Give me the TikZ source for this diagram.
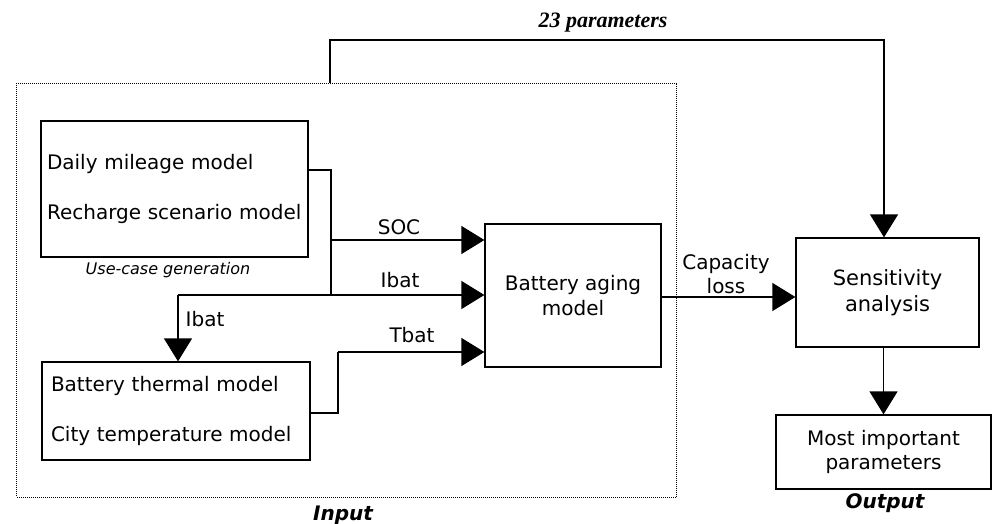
\documentclass[tikz,border=0pt]{standalone}
\usepackage{fontspec}
\setmainfont{DejaVu Sans}
\newfontfamily\timesfont{Liberation Serif}
\usetikzlibrary{arrows.meta}
\begin{document}
\begin{tikzpicture}[x=1pt,y=-1pt,
  conn/.style={line width=1.3pt},
  arr/.style={conn,-{Triangle[length=23pt,width=28pt]}},
  blk/.style={draw,line width=1.3pt,inner sep=0pt},
  lbl/.style={inner sep=0pt,font=\fontsize{20}{24}\selectfont}
]
\useasboundingbox (0,0) rectangle (992,524);
% dotted input frame
\node[draw,dash pattern=on 1pt off 1pt,line width=0.9pt,minimum width=660pt,minimum height=414pt,inner sep=0pt] (inp) at (346.8,290) {};
% blocks
\node[blk,text width=255pt,inner xsep=6pt,minimum height=136pt,align=left,font=\fontsize{20}{50}\selectfont] (uc) at (174.5,189) {Daily mileage model\\Recharge scenario model};
\node[blk,text width=250pt,inner xsep=9pt,minimum height=98pt,align=left,font=\fontsize{20}{50}\selectfont] (th) at (176,411) {Battery thermal model\\City temperature model};
\node[blk,minimum width=176pt,minimum height=143pt,align=center,font=\fontsize{20}{25}\selectfont] (ba) at (573,295.5) {Battery aging\\model};
\node[blk,minimum width=183pt,minimum height=109pt,align=center,font=\fontsize{21}{26}\selectfont] (sa) at (887.5,292.5) {Sensitivity\\analysis};
\node[blk,minimum width=215pt,minimum height=74pt,align=center,font=\fontsize{20}{24}\selectfont] (mi) at (883.5,452) {Most important\\parameters};
% captions
\node[inner sep=0pt,font=\fontsize{16}{19}\selectfont\itshape] (ucl) at (168,270) {Use-case generation};
\node[lbl,font=\fontsize{20}{24}\selectfont\bfseries\itshape] (inl) at (343,515) {Input};
\node[lbl,font=\fontsize{20}{24}\selectfont\bfseries\itshape] (outl) at (885,503) {Output};
\node[inner sep=0pt,font=\timesfont\fontsize{22}{26}\selectfont\bfseries\itshape] (tp) at (603,23) {23 parameters};
% junction coordinates
\coordinate (j1) at (331,170);
\coordinate (j2) at (331,240);
\coordinate (j3) at (331,295);
\coordinate (k) at (178,295);
\coordinate (t1) at (338,413);
\coordinate (t2) at (338,352);
\coordinate (p1) at (330,40);
\coordinate (p2) at (884,40);
% connectors
\draw[conn] (uc.east |- j1) -- (j1) -- (j3);
\draw[arr] (j2) -- (ba.west |- j2);
\draw[arr] (k) -- (ba.west |- k);
\draw[arr] (k) -- (k |- th.north);
\draw[conn] (th.east |- t1) -- (t1) -- (t2);
\draw[arr] (t2) -- (ba.west |- t2);
\draw[arr] (ba.east |- 0,297) -- (sa.west |- 0,297);
\draw[arr] (sa.south -| mi.north) -- (mi.north);
\draw[arr] (inp.north -| p1) -- (p1) -- (p2) -- (sa.north -| p2);
% connector labels
\node[lbl] (lsoc) at (399,227) {SOC};
\node[lbl] (libat) at (400,280) {Ibat};
\node[lbl] (libat2) at (205,319) {Ibat};
\node[lbl] (ltbat) at (412,335) {Tbat};
\node[lbl,align=center,font=\fontsize{20}{24}\selectfont] (lcap) at (726,274) {Capacity\\loss};
\end{tikzpicture}
\end{document}
